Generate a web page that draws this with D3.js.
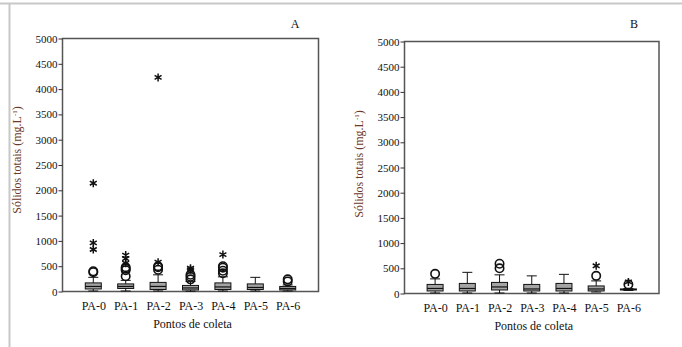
<!DOCTYPE html>
<html>
<head>
<meta charset="utf-8">
<script src="https://cdn.jsdelivr.net/npm/d3@7"></script>
<style>
  body { margin: 0; background: #fff; }
  svg text { font-family: "Liberation Serif", "Tinos", "DejaVu Serif", serif !important; }
</style>
</head>
<body>
<script>
// categories and tick labels
var pontos = ["PA-0", "PA-1", "PA-2", "PA-3", "PA-4", "PA-5", "PA-6"];
var yTicks = [0, 500, 1000, 1500, 2000, 2500, 3000, 3500, 4000, 4500, 5000];

// panel A box stats [min, q1, median, q3, max]
var boxesA = [
  [10, 50, 100, 170, 280],
  [10, 60, 100, 150, 220],
  [10, 40, 100, 180, 330],
  [5, 30, 70, 120, 200],
  [10, 40, 90, 170, 290],
  [10, 40, 80, 150, 280],
  [10, 30, 60, 100, 130]
];
var circlesA = [[380, 400], [300, 420, 450, 480], [430, 480, 500], [240, 290, 330], [360, 410, 470, 500], [], [200, 240]];
var starsA = [[830, 960, 2140], [560, 650, 720], [580, 4230], [430, 460], [730], [], []];

// panel B
var boxesB = [
  [10, 50, 100, 180, 290],
  [10, 50, 100, 200, 420],
  [10, 70, 130, 220, 370],
  [10, 50, 90, 180, 350],
  [10, 50, 100, 200, 380],
  [30, 50, 90, 150, 250],
  [60, 70, 80, 90, 100]
];
var circlesB = [[390], [], [500, 590], [], [], [350], [180]];
var starsB = [[], [], [], [], [], [550], [230]];

var w = 682, h = 347;
var serif = "'Liberation Serif', 'Tinos', 'DejaVu Serif', serif";

var svg = d3.select("body").append("svg")
  .attr("width", w)
  .attr("height", h)
  .attr("font-family", serif);

// light grey frame of the figure
svg.append("line").attr("x1", 0).attr("x2", w).attr("y1", 3.5).attr("y2", 3.5)
  .style("stroke", "#c8c8c8").style("stroke-width", 2);
svg.append("line").attr("x1", 9.5).attr("x2", 9.5).attr("y1", 3.5).attr("y2", h)
  .style("stroke", "#c8c8c8").style("stroke-width", 2);

function painel(cfg) {
  var g = svg.append("g");
  var x = d3.scalePoint().domain(pontos).range([cfg.left, cfg.right]).padding(0.95);
  var y = d3.scaleLinear().domain([0, 5000]).range([cfg.bottom, cfg.top]);

  // frame
  g.append("rect")
    .attr("x", cfg.left).attr("y", cfg.top)
    .attr("width", cfg.right - cfg.left).attr("height", cfg.bottom - cfg.top)
    .style("fill", "none").style("stroke", "#555").style("stroke-width", 1.5);

  var ay = g.append("g")
    .attr("transform", "translate(" + cfg.left + ",0)")
    .call(d3.axisLeft(y).tickValues(yTicks).tickSize(4).tickPadding(1).tickFormat(d3.format("d")));
  ay.attr("font-family", serif);
  ay.select(".domain").remove();
  ay.selectAll("line").style("stroke", "#333");
  ay.selectAll("text").style("font-size", "11px").style("fill", "#111");

  var ax = g.append("g")
    .attr("transform", "translate(0," + cfg.bottom + ")")
    .call(d3.axisBottom(x).tickSize(0).tickPadding(10));
  ax.attr("font-family", serif);
  ax.select(".domain").remove();
  ax.selectAll("text").style("font-size", "12px").style("fill", "#111");

  g.append("text")
    .attr("x", (cfg.left + cfg.right) / 2 + 2)
    .attr("y", cfg.bottom + 36)
    .attr("text-anchor", "middle")
    .style("font-size", "12px").style("fill", "#111")
    .text("Pontos de coleta");

  var yt = g.append("text")
    .attr("transform", "translate(" + cfg.titleX + "," + cfg.titleY + ") rotate(-90)")
    .attr("text-anchor", "middle")
    .style("font-size", "12px").style("fill", "#6a3b2c");
  yt.append("tspan").text("Sólidos totais (mg.L");
  yt.append("tspan").attr("dy", -4).style("font-size", "7px").text("-1");
  yt.append("tspan").attr("dy", 4).text(")");

  g.append("text")
    .attr("x", cfg.letterX).attr("y", 28)
    .attr("text-anchor", "middle")
    .style("font-size", "12px").style("fill", "#111")
    .text(cfg.letter);

  var bw = 16;
  var cap = 10;
  cfg.boxes.forEach(function(b, i) {
    var cx = x(pontos[i]);
    var bg = g.append("g");
    // whiskers
    bg.append("line").attr("x1", cx).attr("x2", cx).attr("y1", y(b[0])).attr("y2", y(b[1]))
      .style("stroke", "#111");
    bg.append("line").attr("x1", cx).attr("x2", cx).attr("y1", y(b[3])).attr("y2", y(b[4]))
      .style("stroke", "#111");
    bg.append("line").attr("x1", cx - cap / 2).attr("x2", cx + cap / 2).attr("y1", y(b[4])).attr("y2", y(b[4]))
      .style("stroke", "#111");
    bg.append("line").attr("x1", cx - cap / 2).attr("x2", cx + cap / 2).attr("y1", y(b[0])).attr("y2", y(b[0]))
      .style("stroke", "#111");
    bg.append("rect")
      .attr("x", cx - bw / 2).attr("y", y(b[3]))
      .attr("width", bw).attr("height", y(b[1]) - y(b[3]))
      .style("fill", "#a4a4a4").style("stroke", "#111").style("stroke-width", 1);
    bg.append("line").attr("x1", cx - bw / 2).attr("x2", cx + bw / 2).attr("y1", y(b[2])).attr("y2", y(b[2]))
      .style("stroke", "#111").style("stroke-width", 1.2);

    cfg.circles[i].forEach(function(v) {
      bg.append("circle").attr("cx", cx).attr("cy", y(v)).attr("r", 4.2)
        .style("fill", "none").style("stroke", "#111").style("stroke-width", 1.6);
    });
    cfg.stars[i].forEach(function(v) {
      bg.append("path")
        .attr("transform", "translate(" + cx + "," + y(v) + ")")
        .attr("d", d3.symbol().type(d3.symbolAsterisk).size(45)())
        .style("fill", "none").style("stroke", "#111").style("stroke-width", 1.5);
    });
  });
}

painel({
  left: 62.5, right: 318.5, top: 38.5, bottom: 291.5,
  boxes: boxesA, circles: circlesA, stars: starsA,
  titleX: 21, titleY: 160, letter: "A", letterX: 295
});

painel({
  left: 404.5, right: 659, top: 41.5, bottom: 293.5,
  boxes: boxesB, circles: circlesB, stars: starsB,
  titleX: 363, titleY: 164, letter: "B", letterX: 634
});
</script>
</body>
</html>
